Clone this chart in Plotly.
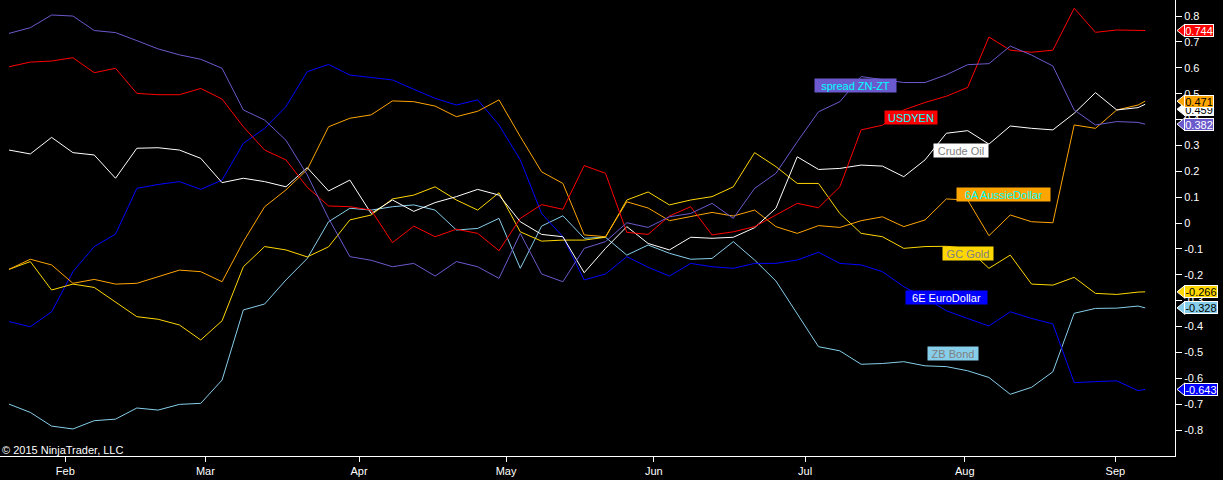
import plotly.graph_objects as go

# ---- data (bar index sampled every 3 bars) ----
bar_index = list(range(0, 160, 3)) + [160]

zn_zt = [0.733, 0.755, 0.804, 0.80, 0.744, 0.736, 0.705, 0.673, 0.65, 0.633, 0.598, 0.437, 0.398, 0.32,
         0.186, 0.018, -0.13, -0.144, -0.169, -0.156, -0.205, -0.149, -0.169, -0.214, -0.04, -0.197, -0.227, -0.098,
         -0.072, 0.001, -0.017, 0.024, 0.037, 0.076, 0.018, 0.134, 0.192, 0.314, 0.43, 0.469, 0.566,
         0.555, 0.543, 0.543, 0.573, 0.612, 0.616, 0.684, 0.649, 0.607, 0.437, 0.379, 0.392, 0.389, 0.382]

usdyen = [0.604, 0.622, 0.626, 0.639, 0.581, 0.598, 0.501, 0.496, 0.496, 0.52, 0.479, 0.372, 0.282, 0.244,
          0.138, 0.066, 0.063, 0.05, -0.076, -0.012, -0.053, -0.024, -0.04, -0.107, 0.018, 0.071, 0.053, 0.222,
          0.192, -0.036, -0.044, 0.027, 0.063, -0.046, -0.034, -0.014, 0.031, 0.076, 0.059, 0.14, 0.36,
          0.378, 0.437, 0.466, 0.49, 0.524, 0.719, 0.668, 0.66, 0.668, 0.83, 0.737, 0.746, 0.744, 0.744]

crude = [0.282, 0.267, 0.331, 0.272, 0.263, 0.173, 0.289, 0.291, 0.282, 0.25, 0.156, 0.173, 0.16, 0.14,
         0.214, 0.124, 0.166, 0.037, 0.089, 0.045, 0.079, 0.102, 0.13, 0.108, 0.005, -0.044, -0.053, -0.192,
         -0.098, -0.014, -0.079, -0.104, -0.055, -0.059, -0.055, -0.018, 0.057, 0.256, 0.207, 0.211, 0.224,
         0.22, 0.179, 0.244, 0.347, 0.357, 0.305, 0.375, 0.366, 0.36, 0.424, 0.504, 0.437, 0.446, 0.459]

aussie = [-0.179, -0.14, -0.162, -0.233, -0.218, -0.236, -0.233, -0.207, -0.182, -0.188, -0.227, -0.072, 0.063, 0.128,
          0.207, 0.372, 0.405, 0.418, 0.472, 0.469, 0.452, 0.411, 0.432, 0.476, 0.334, 0.198, 0.153, -0.046,
          -0.053, 0.082, 0.058, 0.009, 0.024, 0.041, 0.027, 0.05, -0.014, -0.04, -0.01, -0.017, 0.009,
          0.024, -0.014, 0.012, 0.093, 0.089, -0.049, 0.031, 0.005, 0.001, 0.379, 0.366, 0.437, 0.456, 0.471]

gold = [-0.179, -0.149, -0.259, -0.236, -0.249, -0.304, -0.362, -0.372, -0.394, -0.452, -0.378, -0.169, -0.091, -0.104,
        -0.131, -0.092, 0.012, 0.031, 0.093, 0.108, 0.14, 0.089, 0.05, 0.117, -0.034, -0.07, -0.066, -0.066,
        -0.055, 0.089, 0.12, 0.07, 0.089, 0.102, 0.14, 0.272, 0.218, 0.153, 0.153, 0.037, -0.04,
        -0.053, -0.098, -0.091, -0.09, -0.098, -0.175, -0.124, -0.236, -0.24, -0.21, -0.272, -0.276, -0.267, -0.266]

euro = [-0.381, -0.401, -0.343, -0.188, -0.091, -0.043, 0.134, 0.149, 0.16, 0.13, 0.166, 0.308, 0.366, 0.45,
        0.585, 0.613, 0.572, 0.562, 0.553, 0.517, 0.482, 0.456, 0.476, 0.379, 0.244, 0.037, -0.053, -0.22,
        -0.197, -0.13, -0.171, -0.205, -0.156, -0.169, -0.175, -0.156, -0.156, -0.143, -0.113, -0.156, -0.162,
        -0.188, -0.246, -0.289, -0.339, -0.369, -0.398, -0.343, -0.369, -0.39, -0.617, -0.613, -0.61, -0.648, -0.643]

bond = [-0.70, -0.732, -0.785, -0.796, -0.764, -0.758, -0.715, -0.723, -0.701, -0.697, -0.607, -0.336, -0.313, -0.22,
        -0.137, 0.005, 0.057, 0.05, 0.063, 0.07, 0.05, -0.027, -0.021, 0.018, -0.175, -0.012, 0.028, -0.059,
        -0.055, -0.124, -0.085, -0.117, -0.14, -0.137, -0.072, -0.143, -0.224, -0.349, -0.478, -0.494, -0.546,
        -0.543, -0.536, -0.552, -0.555, -0.571, -0.597, -0.662, -0.635, -0.575, -0.349, -0.33, -0.329, -0.321, -0.328]

month_labels = ["Feb", "Mar", "Apr", "May", "Jun", "Jul", "Aug", "Sep"]
month_pos = [7.93, 27.65, 49.3, 70.0, 90.8, 112.1, 134.6, 155.8]

y_ticks = [0.8, 0.7, 0.6, 0.5, 0.4, 0.3, 0.2, 0.1, 0, -0.1, -0.2, -0.3, -0.4, -0.5, -0.6, -0.7, -0.8]
y_tick_text = ["0.8", "0.7", "0.6", "0.5", "0.4", "0.3", "0.2", "0.1", "0",
               "-0.1", "-0.2", "-0.3", "-0.4", "-0.5", "-0.6", "-0.7", "-0.8"]

# name, values, line colour, label text colour, tag text colour, label position (bar, value), label box width
series = [
    ("ZB Bond", bond, "#87CEEB", "#808080", "black", (133.0, -0.506), 50),
    ("6E EuroDollar", euro, "#0000FF", "white", "white", (132.0, -0.286), 81),
    ("GC Gold", gold, "#FFD700", "#808080", "black", (135.1, -0.116), 50),
    ("6A AussieDollar", aussie, "#FFA500", "#00FFFF", "black", (140.0, 0.112), 93),
    ("Crude Oil", crude, "#FFFFFF", "#808080", "black", (134.1, 0.282), 54),
    ("USDYEN", usdyen, "#FF0000", "#00FFFF", "white", (127.0, 0.406), 52),
    ("spread ZN-ZT", zn_zt, "#6A5ACD", "#00FFFF", "white", (119.2, 0.533), 81),
]
tag_shift_px = {"Crude Oil": 5}
tag_order = ["Crude Oil", "USDYEN", "6A AussieDollar", "spread ZN-ZT", "GC Gold", "ZB Bond", "6E EuroDollar"]

X_RANGE = [-1.27, 164.2]
Y_RANGE = [-0.9005, 0.862]
W, H = 1223, 480
M_R, M_B = 48, 24
PW, PH = W - M_R, H - M_B

fig = go.Figure()
for name, vals, col, *_ in series:
    fig.add_trace(go.Scatter(x=bar_index, y=vals, mode="lines", name=name,
                             line=dict(color=col, width=1), hoverinfo="skip"))

annotations = []
shapes = []
font = "Liberation Sans, Arial, sans-serif"

# in-chart labels
for name, vals, col, tcol, _, (lx, ly), bw in series:
    annotations.append(dict(x=lx, y=ly, xref="x", yref="y", text=name, showarrow=False,
                            xanchor="center", yanchor="middle",
                            font=dict(family=font, size=11, color=tcol),
                            bgcolor=col, width=bw, height=13, borderpad=0))

# right-side last value tags
def py(v):
    return (v - Y_RANGE[0]) / (Y_RANGE[1] - Y_RANGE[0])

lookup = {s[0]: s for s in series}
for name in tag_order:
    _, vals, col, _, tagcol, _, _ = lookup[name]
    last = vals[-1]
    label = f"{last:.3f}"
    yc = py(last) - tag_shift_px.get(name, 0) / PH
    h = 6.5 / PH
    x_tip, x_body = 1177 / PW, 1185 / PW
    path = f"M{x_tip},{yc} L{x_body},{yc + h} L{x_body},{yc - h} Z"
    shapes.append(dict(type="path", path=path, xref="paper", yref="paper",
                       fillcolor=col, line=dict(color="white", width=1), layer="above"))
    annotations.append(dict(x=x_body - 1 / PW, y=yc, xref="paper", yref="paper",
                            xanchor="left", yanchor="middle",
                            text=label, showarrow=False,
                            bgcolor=col, bordercolor="white", borderwidth=1, borderpad=0,
                            width=28 if len(label) <= 5 else 32, height=11,
                            font=dict(family=font, size=11, color=tagcol)))

annotations.append(dict(x=0, y=(PH - 450) / PH, xref="paper", yref="paper",
                        xanchor="left", yanchor="middle", text="© 2015 NinjaTrader, LLC",
                        showarrow=False, font=dict(family=font, size=11, color="white")))

fig.update_layout(
    width=W, height=H,
    margin=dict(l=0, r=M_R, t=0, b=M_B, pad=0),
    paper_bgcolor="black", plot_bgcolor="black",
    showlegend=False,
    annotations=annotations, shapes=shapes,
    xaxis=dict(range=X_RANGE, tickvals=month_pos, ticktext=month_labels,
               showgrid=False, zeroline=False, showline=True, linecolor="white", linewidth=1,
               ticks="outside", ticklen=5, tickcolor="white",
               tickfont=dict(family=font, size=11, color="white")),
    yaxis=dict(range=Y_RANGE, side="right", tickvals=y_ticks, ticktext=y_tick_text,
               showgrid=False, zeroline=False, showline=True, linecolor="white", linewidth=1,
               ticks="outside", ticklen=6, tickcolor="white",
               tickfont=dict(family=font, size=11, color="white")),
)

fig.write_html("out.html", config={"displayModeBar": False},
               post_script="document.body.style.margin='0';document.body.style.background='black';")
